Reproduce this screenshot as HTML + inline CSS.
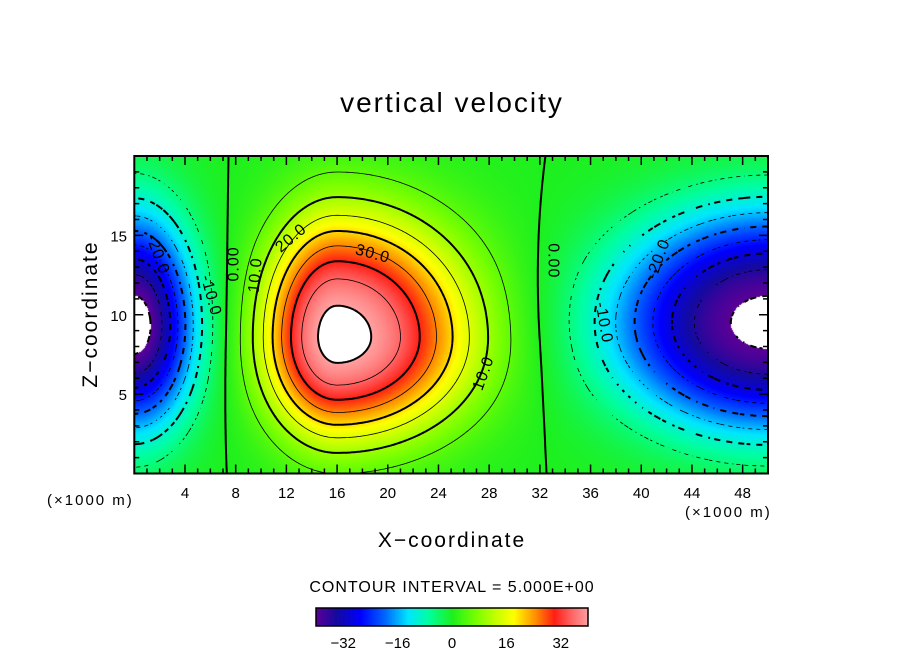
<!DOCTYPE html>
<html><head><meta charset="utf-8"><style>
html,body{margin:0;padding:0;background:#fff;}
#wrap{position:relative;width:904px;height:654px;overflow:hidden;font-family:"Liberation Sans","DejaVu Sans",sans-serif;}
canvas,svg{position:absolute;left:0;top:0;}
</style></head><body>
<div id="wrap">
<canvas id="field" width="904" height="654"></canvas>
<svg id="svg" width="904" height="654"></svg>
</div>
<script>
// ---- data: field blobs ----
const blobX   = [16.0, 0.0, 50.0];
const blobZ   = [8.6, 9.3, 9.5];
const blobAmp = [41.6, -42.5, -41.2];
const blobSxL = [5.8, 4.6, 12];
const blobSxR = [10.4, 4.6, 12];
const blobSzD = [6.3, 6.3, 6.7];
const blobSzU = [7.6, 6.8, 6.9];
const blobPow = [2.4, 2.2, 2.5];
const contourLevels = [-40,-35,-30,-25,-20,-15,-10,-5,0,5,10,15,20,25,30,35,40];
const xTicks = [4,8,12,16,20,24,28,32,36,40,44,48];
const yTicks = [5,10,15];
const cbTicks = [-32,-16,0,16,32];
const contourLabelText = ["30.0","20.0","10.0","10.0","0.00","0.00","-20.0","-10.0","-20.0","-10.0"];
const contourLabelX = [18.8, 12.4, 9.6, 27.6, 7.9, 33.0, 1.8, 6.0, 41.4, 37.0];
const contourLabelZ = [13.8, 14.8, 12.5, 6.3, 13.2, 13.4, 13.8, 11.2, 13.5, 9.5];
const contourLabelRot = [15, -40, -85, -70, -90, 90, 70, 75, -70, 80];

const L=134.3, R=768, T=156, B=473.5;
const X0=0, X1=50, Z0=0, Z1=20;
function sx(x){return L+(x-X0)/(X1-X0)*(R-L);}
function sy(z){return B-(z-Z0)/(Z1-Z0)*(B-T);}
function field(x,z){
  let w=0;
  for(let i=0;i<blobX.length;i++){
    const dx=x-blobX[i], dz=z-blobZ[i];
    const a=dx/(dx<0?blobSxL[i]:blobSxR[i]);
    const b=dz/(dz<0?blobSzD[i]:blobSzU[i]);
    const r=Math.sqrt(a*a+b*b);
    w+=blobAmp[i]*Math.exp(-Math.pow(r,blobPow[i]));
  }
  return w;
}
const cmapV=[-40,-34,-27,-20,-13,-7,0,7,13,18,24,30,35,40];
const cmapC=[[90,0,150],[20,10,160],[0,0,255],[0,100,255],[0,230,255],[0,255,160],[30,240,30],[120,255,0],[200,255,0],[255,255,0],[255,150,0],[255,30,20],[255,100,100],[255,160,160]];
function cmap(v){
  if(v>40||v<-40) return [255,255,255];
  for(let i=0;i<cmapV.length-1;i++){
    if(v<=cmapV[i+1]){const t=(v-cmapV[i])/(cmapV[i+1]-cmapV[i]);const a=cmapC[i],b=cmapC[i+1];
      return [a[0]+(b[0]-a[0])*t,a[1]+(b[1]-a[1])*t,a[2]+(b[2]-a[2])*t];}
  }
  return cmapC[cmapC.length-1];
}
const cv=document.getElementById('field'),ctx=cv.getContext('2d');
const x0=Math.round(L),x1=Math.round(R),y0=Math.round(T),y1=Math.round(B);
const img=ctx.createImageData(x1-x0,y1-y0);
for(let py=y0;py<y1;py++){for(let px=x0;px<x1;px++){
  const x=X0+(px+0.5-L)/(R-L)*(X1-X0), z=Z0+(B-py-0.5)/(B-T)*(Z1-Z0);
  const c=cmap(field(x,z)); const k=((py-y0)*(x1-x0)+(px-x0))*4;
  img.data[k]=c[0];img.data[k+1]=c[1];img.data[k+2]=c[2];img.data[k+3]=255;}}
ctx.putImageData(img,x0,y0);
for(let px=316;px<588;px++){const v=-40+(px-316)/272*80;const c=cmap(Math.max(-39.9,Math.min(39.9,v)));
  ctx.fillStyle='rgb('+c.map(Math.round).join(',')+')';ctx.fillRect(px,608,1,18);}

const NS='http://www.w3.org/2000/svg', svg=document.getElementById('svg');
function el(tag,attrs,parent){const e=document.createElementNS(NS,tag);for(const k in attrs)e.setAttribute(k,attrs[k]);(parent||svg).appendChild(e);return e;}
const step=2, nx=Math.ceil((R-L)/step), ny=Math.ceil((B-T)/step);
const grid=[];
for(let j=0;j<=ny;j++){const row=[];for(let i=0;i<=nx;i++){const px=Math.min(L+i*step,R),py=Math.min(T+j*step,B);
  row.push(field(X0+(px-L)/(R-L)*(X1-X0),Z0+(B-py)/(B-T)*(Z1-Z0)));}grid.push(row);}
const cg=el('g',{});


contourLevels.forEach(lev=>{
  let d='';
  const thick=(lev%10===0);
  const dl=thick?6:4;
  for(let j=0;j<ny;j++)for(let i=0;i<nx;i++){
    const v=[grid[j][i],grid[j][i+1],grid[j+1][i+1],grid[j+1][i]];
    const P=[[L+i*step,T+j*step],[L+(i+1)*step,T+j*step],[L+(i+1)*step,T+(j+1)*step],[L+i*step,T+(j+1)*step]];
    const pts=[];
    for(let e=0;e<4;e++){const a=v[e],b=v[(e+1)%4];
      if((a<lev)!==(b<lev)){const t=(lev-a)/(b-a);const p=P[e],q=P[(e+1)%4];
        pts.push([p[0]+(q[0]-p[0])*t,Math.min(B,p[1]+(q[1]-p[1])*t)]);}}
    for(let k=0;k+1<pts.length;k+=2){
      if(lev<0){const mx=(pts[k][0]+pts[k+1][0])/2,my=(pts[k][1]+pts[k+1][1])/2;
        if((Math.floor(mx/dl)+Math.floor(my/dl))%2) continue;}
      d+='M'+pts[k][0].toFixed(1)+' '+pts[k][1].toFixed(1)+'L'+pts[k+1][0].toFixed(1)+' '+pts[k+1][1].toFixed(1);}
  }
  if(!d)return;
  const p=el('path',{d:d,fill:'none',stroke:'#000','stroke-width':thick?2:0.8},cg);
  
  
});
contourLabelText.forEach((t,i)=>{
  const X=sx(contourLabelX[i]),Y=sy(contourLabelZ[i]);
  const tx=el('text',{x:X,y:Y,'font-size':16,'text-anchor':'middle','dominant-baseline':'middle',fill:'#000','letter-spacing':1,transform:'rotate('+contourLabelRot[i]+' '+X+' '+Y+')'});
  tx.textContent=t;
  
  
});
const fr=el('rect',{x:L,y:T,width:R-L,height:B-T,fill:'none',stroke:'#000','stroke-width':2});


let td='';
for(let x=1;x<50;x++){const X=sx(x),len=(x%4===0)?9:5;td+='M'+X+' '+B+'v'+(-len)+'M'+X+' '+T+'v'+len;}
for(let z=1;z<20;z++){const Y=sy(z),len=(z%5===0)?9:5;td+='M'+L+' '+Y+'h'+len+'M'+R+' '+Y+'h'+(-len);}
const tk=el('path',{d:td,stroke:'#000','stroke-width':1.5,fill:'none'});


xTicks.forEach(x=>{const t=el('text',{x:sx(x),y:498,'font-size':15,'text-anchor':'middle'});t.textContent=x;
  
  });
yTicks.forEach(z=>{const t=el('text',{x:127,y:sy(z)+6,'font-size':15,'text-anchor':'end'});t.textContent=z;
  
  });
const cbf=el('rect',{x:316,y:608,width:272,height:18,fill:'none',stroke:'#000','stroke-width':1.5});


cbTicks.forEach(v=>{const t=el('text',{x:316+(v+40)/80*272,y:648,'font-size':15,'text-anchor':'middle'});t.textContent=(v<0?'\u2212'+(-v):v);
  
  });
</script>
<svg width="904" height="654" style="position:absolute;left:0;top:0;pointer-events:none">
<text x="452" y="112" font-size="28" letter-spacing="2" text-anchor="middle" font-family="Liberation Sans,sans-serif">vertical velocity</text>
<text x="452" y="547" font-size="21" letter-spacing="2" text-anchor="middle" font-family="Liberation Sans,sans-serif">X−coordinate</text>
<text x="97" y="314" font-size="21" letter-spacing="2" text-anchor="middle" transform="rotate(-90 97 314)" font-family="Liberation Sans,sans-serif">Z−coordinate</text>
<text x="47" y="505" font-size="15" letter-spacing="2" font-family="Liberation Sans,sans-serif">(×1000 m)</text>
<text x="685" y="517" font-size="15" letter-spacing="2" font-family="Liberation Sans,sans-serif">(×1000 m)</text>
<text x="452" y="592" font-size="16" letter-spacing="1" text-anchor="middle" font-family="Liberation Sans,sans-serif">CONTOUR INTERVAL = 5.000E+00</text>
</svg>
</body></html>
